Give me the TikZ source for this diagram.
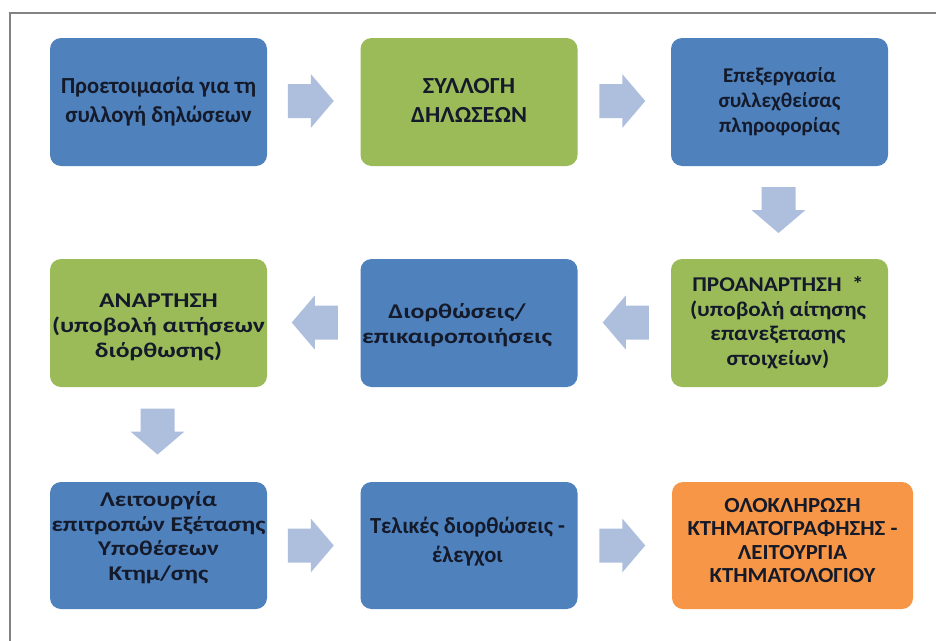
\documentclass[tikz,border=0pt]{standalone}
\usepackage{fontspec}
\usepackage{graphicx}
\setmainfont{Carlito}
\usetikzlibrary{calc}
\definecolor{boxblue}{RGB}{79,129,189}
\definecolor{boxgreen}{RGB}{155,187,89}
\definecolor{boxorange}{RGB}{247,150,70}
\definecolor{arrowfill}{RGB}{174,191,222}
\definecolor{txtdark}{RGB}{20,26,42}
\definecolor{framegray}{RGB}{130,130,130}
\newbox\myfitbox
% #1 font size, #2 line spacing, #3 target width of the longest line, #4 lines
\newcommand\fittext[4]{%
  \setbox\myfitbox=\hbox{\fontsize{#1}{#2}\selectfont\bfseries\begin{tabular}{@{}c@{}}#4\end{tabular}}%
  \pgfmathsetmacro\fitsx{#3/\the\wd\myfitbox}%
  \scalebox{\fitsx}[1]{\box\myfitbox}}
\tikzset{
  stepbox/.style={rounded corners=11pt, inner sep=0pt, minimum width=217pt, minimum height=128pt},
  bluebox/.style={stepbox, fill=boxblue},
  greenbox/.style={stepbox, fill=boxgreen},
  orangebox/.style={stepbox, fill=boxorange},
  steptext/.style={inner sep=0pt, text=txtdark},
  barrow/.pic={\fill[arrowfill] (-23,-17) -- (0,-17) -- (0,-27) -- (23,0) -- (0,27) -- (0,17) -- (-23,17) -- cycle;}
}
\begin{document}
\begin{tikzpicture}[x=1pt,y=-1pt]
\useasboundingbox (0,0) rectangle (936,640);
\fill[white] (0,0) rectangle (936,640);
\draw[framegray, line width=1.6pt] (10,641) -- (10,13) -- (937,13);
% boxes
\node[bluebox]   (b1) at (158.5,102) {};
\node[greenbox]  (b2) at (469,102) {};
\node[bluebox]   (b3) at (779.5,102) {};
\node[greenbox]  (b4) at (158.5,323) {};
\node[bluebox]   (b5) at (469,323) {};
\node[greenbox]  (b6) at (779.5,323) {};
\node[bluebox, minimum height=127pt]   (b7) at (158.5,545.5) {};
\node[bluebox, minimum height=127pt]   (b8) at (469,545.5) {};
\node[orangebox, minimum height=127pt, minimum width=241pt] (b9) at (792.5,545.5) {};
% texts
\node[steptext] (t1) at (b1.center) {\fittext{23}{29.5}{195}{Προετοιμασία για τη\\συλλογή δηλώσεων}};
\node[steptext] (t2) at (b2.center) {\fittext{23}{29}{116}{ΣΥΛΛΟΓΗ\\ΔΗΛΩΣΕΩΝ}};
\node[steptext] (t3) at (b3.center) {\fittext{21}{25}{122}{Επεξεργασία\\συλλεχθείσας\\πληροφορίας}};
\node[steptext] (t4) at ([yshift=-4pt]b4.center) {\fittext{21}{25}{213}{ΑΝΑΡΤΗΣΗ\\(υποβολή αιτήσεων\\διόρθωσης)}};
\node[steptext] (t5) at ([xshift=-12pt,yshift=-2.5pt]b5.center) {\fittext{21}{25}{190}{Διορθώσεις/\\επικαιροποιήσεις}};
\node[steptext] (t6) at ([xshift=-1.5pt,yshift=-0.5pt]b6.center) {\fittext{21}{24.5}{176}{ΠΡΟΑΝΑΡΤΗΣΗ \ *\\(υποβολή αίτησης\\επανεξετασης\\στοιχείων)}};
\node[steptext] (t7) at ([yshift=7pt]b7.center) {\fittext{21}{24.5}{214}{Λειτουργία\\επιτροπών Εξέτασης\\Υποθέσεων\\Κτημ/σης}};
\node[steptext] (t8) at ([xshift=-1.5pt,yshift=3.5pt]b8.center) {\fittext{23}{29}{195}{Τελικές διορθώσεις -\\έλεγχοι}};
\node[steptext] (t9) at ([yshift=2.5pt]b9.center) {\fittext{21.5}{23.5}{210}{ΟΛΟΚΛΗΡΩΣΗ\\ΚΤΗΜΑΤΟΓΡΑΦΗΣΗΣ -\\ΛΕΙΤΟΥΡΓΙΑ\\ΚΤΗΜΑΤΟΛΟΓΙΟΥ}};
% block arrows between the boxes
\coordinate (a12) at ($(b1.east)!0.5!(b2.west)+(-3,-1)$);
\coordinate (a23) at ($(b2.east)!0.5!(b3.west)+(-2,-1)$);
\coordinate (a36) at ($(b3.south)!0.5!(b6.north)+(-1,-2.5)$);
\coordinate (a65) at ($(b6.west)!0.5!(b5.east)+(1.5,-0.5)$);
\coordinate (a54) at ($(b5.west)!0.5!(b4.east)+(1,-0.5)$);
\coordinate (a47) at ($(b4.south)!0.5!(b7.north)+(-1,-3)$);
\coordinate (a78) at ($(b7.east)!0.5!(b8.west)+(-3,0)$);
\coordinate (a89) at ($(b8.east)!0.5!(b9.west)+(-2.5,0)$);
\pic at (a12) {barrow};
\pic at (a23) {barrow};
\pic[rotate=-90] at (a36) {barrow};
\pic[rotate=180] at (a65) {barrow};
\pic[rotate=180] at (a54) {barrow};
\pic[rotate=-90] at (a47) {barrow};
\pic at (a78) {barrow};
\pic at (a89) {barrow};
\end{tikzpicture}
\end{document}
